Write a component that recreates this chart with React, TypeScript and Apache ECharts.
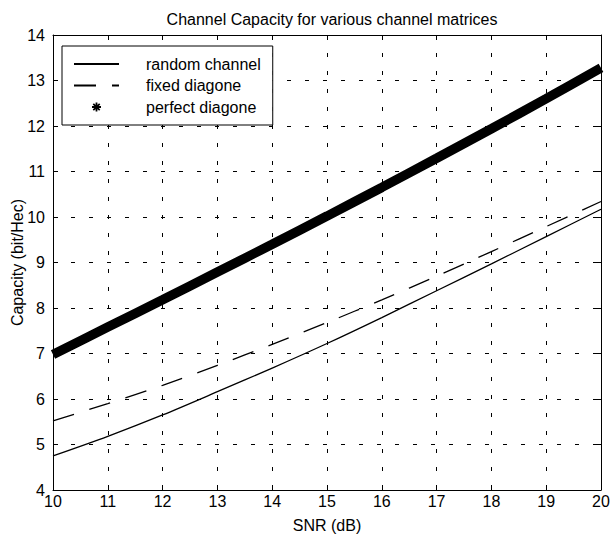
import React, { useEffect, useRef } from "react";
import * as echarts from "echarts";

const snr = [10, 11, 12, 13, 14, 15, 16, 17, 18, 19, 20];
const randomChannel = [4.75, 5.18, 5.65, 6.16, 6.68, 7.22, 7.79, 8.38, 8.97, 9.57, 10.17];
const fixedDiagonal = [5.52, 5.9, 6.3, 6.74, 7.2, 7.68, 8.18, 8.7, 9.24, 9.79, 10.34];
const perfectDiagonal = [6.98, 7.58, 8.18, 8.79, 9.4, 10.02, 10.65, 11.29, 11.94, 12.6, 13.28];
const seriesNames = ["random channel", "fixed diagone", "perfect diagone"];
const titleText = "Channel Capacity for various channel matrices";
const xName = "SNR (dB)";
const yName = "Capacity (bit/Hec)";

const FONT = "'Liberation Sans', Arial, Helvetica, sans-serif";

const ASTERISK =
  "path://M0,0 L0.01,0 L0,0.01 Z M14,14 L13.99,14 L14,13.99 Z " +
  "M6.1,2.5 L7.9,2.5 L7.9,11.5 L6.1,11.5 Z " +
  "M2.5,6.1 L11.5,6.1 L11.5,7.9 L2.5,7.9 Z " +
  "M3.2,4.4 L4.4,3.2 L10.8,9.6 L9.6,10.8 Z " +
  "M9.6,3.2 L10.8,4.4 L4.4,10.8 L3.2,9.6 Z";

export default function App() {
  const ref = useRef<HTMLDivElement>(null);
  useEffect(() => {
    if (!ref.current) return;
    const chart = echarts.init(ref.current, undefined, { renderer: "svg" });
    const pair = (ys: number[]) => snr.map((x, i) => [x, ys[i]]);
    const axisCommon = { min: 10, max: 20, interval: 1 };
    const yCommon = { min: 4, max: 14, interval: 1 };
    const lineStyleAxis = { show: true, lineStyle: { color: "#000", width: 1 } };
    const tick = { show: true, inside: true, length: 5, lineStyle: { color: "#000", width: 1 } };
    chart.setOption({
      animation: false,
      backgroundColor: "#fff",
      textStyle: { fontFamily: FONT, color: "#000" },
      title: {
        text: titleText,
        left: 327,
        textAlign: "center",
        top: 6,
        textStyle: { fontFamily: FONT, fontSize: 16, fontWeight: "normal", color: "#000" },
      },
      grid: { left: 53, right: 10, top: 35, bottom: 48, containLabel: false, outerBoundsMode: "none" },
      legend: {
        orient: "vertical",
        left: 62,
        top: 46,
        padding: [10, 12, 10, 11],
        backgroundColor: "#fff",
        borderColor: "#000",
        borderWidth: 1,
        borderRadius: 0,
        itemWidth: 45,
        itemHeight: 14,
        itemGap: 5.5,
        textStyle: { fontFamily: FONT, fontSize: 16, color: "#000", padding: [0, 0, 0, 22] },
        data: [
          { name: seriesNames[0], itemStyle: { opacity: 0 } },
          { name: seriesNames[1], itemStyle: { opacity: 0 } },
          { name: seriesNames[2], icon: ASTERISK, itemStyle: { color: "#000" } },
        ],
      },
      xAxis: [
        {
          type: "value",
          ...axisCommon,
          position: "bottom",
          name: xName,
          nameLocation: "middle",
          nameGap: 27,
          nameMoveOverlap: false,
          nameTextStyle: { fontFamily: FONT, fontSize: 16, color: "#000" },
          axisLine: lineStyleAxis,
          axisTick: tick,
          axisLabel: { fontFamily: FONT, fontSize: 16, color: "#000", margin: 6, lineHeight: 10 },
          splitLine: { show: true, lineStyle: { color: "#000", width: 1, type: [4, 14] } },
        },
        {
          type: "value",
          ...axisCommon,
          position: "top",
          axisLine: lineStyleAxis,
          axisTick: tick,
          axisLabel: { show: false },
          splitLine: { show: false },
        },
      ],
      yAxis: [
        {
          type: "value",
          ...yCommon,
          position: "left",
          name: yName,
          nameLocation: "middle",
          nameGap: 28,
          nameMoveOverlap: false,
          nameTextStyle: { fontFamily: FONT, fontSize: 16, color: "#000" },
          axisLine: lineStyleAxis,
          axisTick: tick,
          axisLabel: { fontFamily: FONT, fontSize: 16, color: "#000", margin: 8, lineHeight: 10 },
          splitLine: { show: true, lineStyle: { color: "#000", width: 1, type: [4, 14] } },
        },
        {
          type: "value",
          ...yCommon,
          position: "right",
          axisLine: lineStyleAxis,
          axisTick: tick,
          axisLabel: { show: false },
          splitLine: { show: false },
        },
      ],
      series: [
        {
          name: seriesNames[0],
          type: "line",
          data: pair(randomChannel),
          symbol: "none",
          smooth: 0.3,
          lineStyle: { color: "#000", width: 1.3 },
          itemStyle: { color: "#000" },
        },
        {
          name: seriesNames[1],
          type: "line",
          data: pair(fixedDiagonal),
          symbol: "none",
          smooth: 0.3,
          lineStyle: { color: "#000", width: 1.3, type: [22, 16] },
          itemStyle: { color: "#000" },
        },
        {
          name: seriesNames[2],
          type: "line",
          data: pair(perfectDiagonal),
          symbol: "none",
          smooth: 0.3,
          lineStyle: { color: "#000", width: 9.5 },
          itemStyle: { color: "#000" },
        },
      ],
    });
    return () => chart.dispose();
  }, []);
  return <div ref={ref} style={{ width: 611, height: 538, position: "absolute", left: 0, top: 0 }} />;
}
